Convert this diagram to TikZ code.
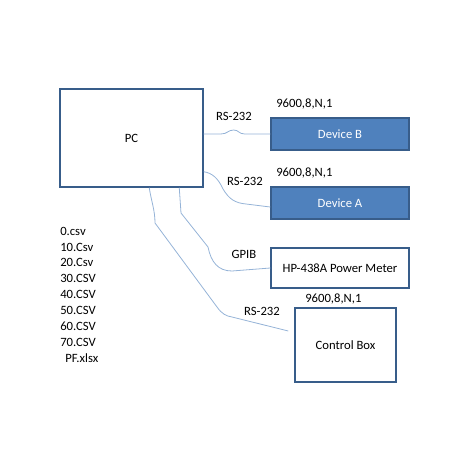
\documentclass[tikz,border=0pt]{standalone}
\usepackage{fontspec}
\setmainfont{Carlito}
\usetikzlibrary{calc,positioning}

\definecolor{boxfill}{HTML}{4F81BD}
\definecolor{boxline}{HTML}{385D8A}
\definecolor{wire}{HTML}{95B3D7}

\tikzset{
  tag/.style={inner sep=0pt, font=\fontsize{9.5}{11}\selectfont},
  unit/.style={tag, draw=boxline, line width=1.1pt},
  device/.style={unit, fill=boxfill, text=white},
  cable/.style={draw=wire, line width=0.6pt},
  fname/.style={tag, anchor=north west, text height=8.2pt, text depth=3.3pt}
}

\begin{document}
\begin{tikzpicture}[x=0.75pt,y=-0.75pt]
\useasboundingbox (0,0) rectangle (460,460);

% boxes
\node[unit, minimum width=107.25pt, minimum height=73.5pt] (pc) at (131.5,138) {PC};
\node[device, minimum width=103.5pt, minimum height=24pt] (devB) at (340,134) {Device B};
\node[device, minimum width=103.5pt, minimum height=24pt] (devA) at (340,203) {Device A};
\node[unit, minimum width=103.5pt, minimum height=30pt] (meter) at (340,268) {HP-438A Power Meter};
\node[unit, minimum width=75.75pt, minimum height=55.5pt] (ctrl) at (345.5,345) {Control Box};

% port settings
\node[tag, anchor=west] (setB) at (276,104) {9600,8,N,1};
\node[tag, anchor=west] (setA) at (276,173) {9600,8,N,1};
\node[tag, anchor=west] (setC) at (305,299) {9600,8,N,1};

% cable labels
\node[tag] (busB) at (234,116) {RS-232};
\node[tag] (busA) at (245,181) {RS-232};
\node[tag] (busM) at (244,254) {GPIB};
\node[tag] (busC) at (262,311) {RS-232};

% cables
\coordinate (outB) at (pc.east |- devB.west);
\coordinate (outA) at ($(pc.south east)+(0,-16)$);
\coordinate (outM) at ($(pc.south west)+(120,0)$);
\coordinate (outC) at ($(pc.south west)+(90,0)$);
\coordinate (inA) at ($(devA.west)+(0,4)$);
\coordinate (inC) at ($(ctrl.west)+(-6,-14)$);

\draw[cable] (outB) -- ++(17,0) .. controls +(7,0) and +(-6,0) .. ++(13,-4)
  .. controls +(5,0) and +(-6,0) .. ++(11,4) -- (devB.west);
\draw[cable] (outA) .. controls (212,173) and (218,178) .. (223,189)
  .. controls (229,199) and (235,203) .. (246,204) -- (inA);
\draw[cable] (outM) -- (181,213) -- (208,247)
  .. controls (211,262) and (218,271) .. (232,271) -- (meter.west);
\draw[cable] (outC) .. controls (151,200) and (155,210) .. (155,223) -- (217,307)
  .. controls (222,314) and (226,316) .. (232,317) -- (inC);

% data files
\node[fname] (f0) at (60,224) {0.csv};
\node[fname, below=0pt of f0.south west, anchor=north west] (f10) {10.Csv};
\node[fname, below=0pt of f10.south west, anchor=north west] (f20) {20.Csv};
\node[fname, below=0pt of f20.south west, anchor=north west] (f30) {30.CSV};
\node[fname, below=0pt of f30.south west, anchor=north west] (f40) {40.CSV};
\node[fname, below=0pt of f40.south west, anchor=north west] (f50) {50.CSV};
\node[fname, below=0pt of f50.south west, anchor=north west] (f60) {60.CSV};
\node[fname, below=0pt of f60.south west, anchor=north west] (f70) {70.CSV};
\node[fname, below=0pt of f70.south west, anchor=north west, xshift=3.75pt] (pf) {PF.xlsx};
\end{tikzpicture}
\end{document}
